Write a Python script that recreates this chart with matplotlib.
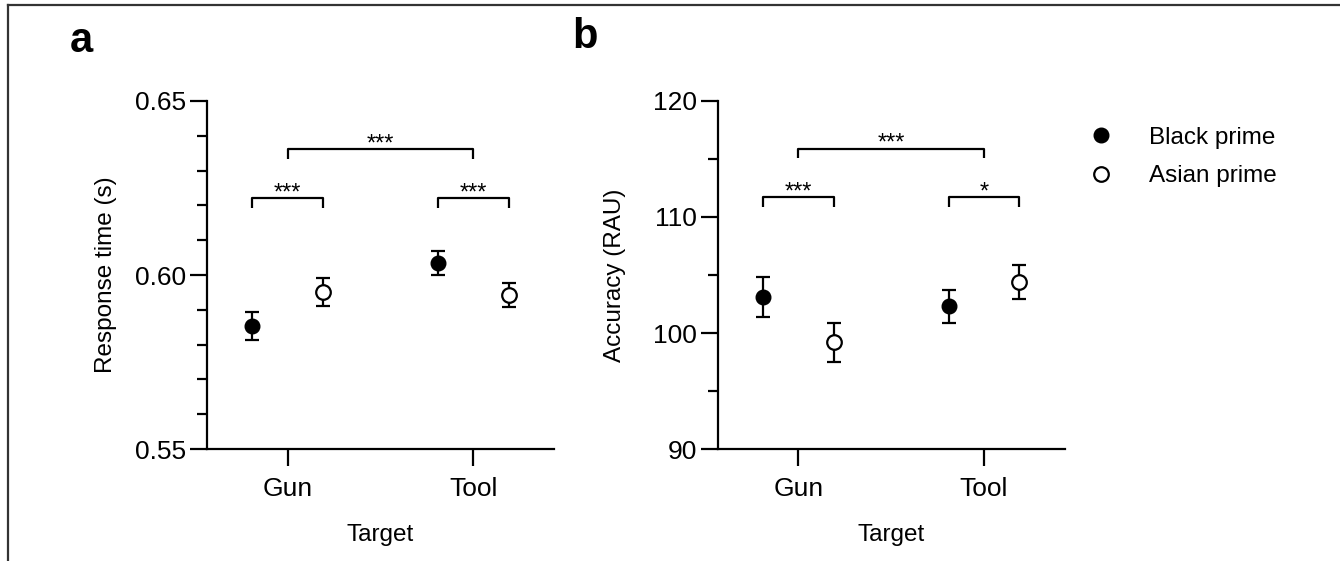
import numpy as np
import matplotlib
matplotlib.use("Agg")
import matplotlib.pyplot as plt
from matplotlib.lines import Line2D
from matplotlib.ticker import MultipleLocator

plt.rcParams['font.family'] = ['Liberation Sans', 'DejaVu Sans']

# Daten
targets = ["Gun", "Tool"]
primes = ["Black prime", "Asian prime"]

rt_black = [0.5853, 0.6034]
rt_black_sem = [0.0040, 0.0034]
rt_asian = [0.5951, 0.5942]
rt_asian_sem = [0.0039, 0.0034]

acc_black = [103.1, 102.3]
acc_black_sem = [1.7, 1.4]
acc_asian = [99.2, 104.4]
acc_asian_sem = [1.7, 1.45]

rt_stars = ["***", "***", "***"]   # Gun, Tool, Gun vs Tool
acc_stars = ["***", "*", "***"]

fig = plt.figure(figsize=(13.4, 5.61), dpi=100)
ax1 = fig.add_axes([0.1545, 0.1996, 0.2589, 0.6204])
ax2 = fig.add_axes([0.5356, 0.1996, 0.2589, 0.6204])

x = np.arange(len(targets))
off = 0.19


def draw_panel(ax, black, black_sem, asian, asian_sem, stars, ylim, major, minor,
               br_low, br_top, tick_h, star_pad, ylabel, ypad):
    ax.errorbar(x - off, black, yerr=black_sem, fmt='o', color='black', mfc='black',
                ms=10.5, elinewidth=1.6, capsize=5, capthick=1.6, zorder=3)
    ax.errorbar(x + off, asian, yerr=asian_sem, fmt='o', color='black', mfc='white',
                mec='black', mew=1.6, ms=10.5, elinewidth=1.6, capsize=5, capthick=1.6, zorder=3)

    # Klammern innerhalb der Targets
    for i in range(len(targets)):
        xs = [x[i] - off, x[i] - off, x[i] + off, x[i] + off]
        ys = [br_low - tick_h, br_low, br_low, br_low - tick_h]
        ax.plot(xs, ys, color='black', lw=1.6, solid_capstyle='butt')
        ax.text(x[i], br_low + star_pad, stars[i], ha='center', va='center', fontsize=17)
    # Klammer Gun vs Tool
    xs = [x[0], x[0], x[1], x[1]]
    ys = [br_top - tick_h, br_top, br_top, br_top - tick_h]
    ax.plot(xs, ys, color='black', lw=1.6, solid_capstyle='butt')
    ax.text((x[0] + x[1]) / 2, br_top + star_pad, stars[2], ha='center', va='center', fontsize=17)

    ax.set_xlim(-0.435, 1.435)
    ax.set_ylim(*ylim)
    ax.set_xticks(x)
    ax.set_xticklabels(targets)
    ax.yaxis.set_major_locator(MultipleLocator(major))
    ax.yaxis.set_minor_locator(MultipleLocator(minor))
    ax.spines['top'].set_visible(False)
    ax.spines['right'].set_visible(False)
    for s in ['left', 'bottom']:
        ax.spines[s].set_linewidth(1.6)
    ax.tick_params(axis='both', which='major', length=12, width=1.6, labelsize=19, pad=3)
    ax.tick_params(axis='x', which='major', pad=8)
    ax.tick_params(axis='y', which='minor', length=7.5, width=1.6)
    ax.set_xlabel("Target", fontsize=17.5, labelpad=17)
    ax.set_ylabel(ylabel, fontsize=17.5, labelpad=ypad)


draw_panel(ax1, rt_black, rt_black_sem, rt_asian, rt_asian_sem, rt_stars,
           (0.55, 0.65), 0.05, 0.01, 0.622, 0.6362, 0.0028, 0.0014, "Response time (s)", 13)
ax1.set_yticks([0.55, 0.60, 0.65])
ax1.set_yticklabels(["0.55", "0.60", "0.65"])

draw_panel(ax2, acc_black, acc_black_sem, acc_asian, acc_asian_sem, acc_stars,
           (90, 120), 10, 5, 111.7, 115.9, 0.85, 0.42, "Accuracy (RAU)", 19)

# Legende
handles = [Line2D([], [], marker='o', ls='none', color='black', mfc='black', ms=10.5),
           Line2D([], [], marker='o', ls='none', color='black', mfc='white', mew=1.6, ms=10.5)]
fig.legend(handles, primes, loc='upper left', bbox_to_anchor=(0.796, 0.813),
           frameon=False, fontsize=17.5, handletextpad=1.5, labelspacing=0.68,
           handlelength=1.0)

# Panelbuchstaben
fig.text(81 / 1340, 1 - 51.7 / 561, "a", fontsize=30, fontweight='bold', ha='center', va='baseline')
fig.text(585 / 1340, 1 - 47.7 / 561, "b", fontsize=30, fontweight='bold', ha='center', va='baseline')

# Rahmenlinien oben und links
fig.add_artist(Line2D([8 / 1340, 1], [1 - 5 / 561, 1 - 5 / 561], color='#333333', lw=1.6))
fig.add_artist(Line2D([8 / 1340, 8 / 1340], [0, 1 - 5 / 561], color='#333333', lw=1.6))

fig.savefig("out.png", dpi=100)
